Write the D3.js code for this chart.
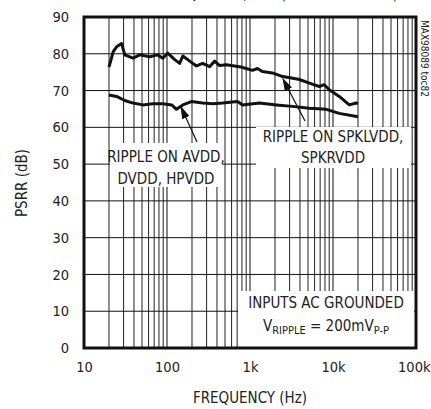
<!DOCTYPE html>
<html lang="en">
<head>
<meta charset="UTF-8">
<title>PSRR vs frequency</title>
<script src="https://cdn.jsdelivr.net/npm/d3@7"></script>
<style>
  body{ margin:0; padding:0; background:#fff; }
  svg text{ font-family:"Liberation Sans Narrow","DejaVu Sans Condensed","Roboto Condensed",Arial,sans-serif; fill:#222; }
  .tick text{ font-size:14.5px; }
  .grid line{ stroke:#111; stroke-width:1; }
  .grid .minor{ stroke:#222; stroke-width:1; }
  .curve{ fill:none; stroke:#111; stroke-width:3; stroke-linejoin:round; }
  .note{ font-size:15px; }
</style>
</head>
<body>
<div id="chart"></div>
<script>
// upper curve: ripple on SPKLVDD, SPKRVDD
let spkFreq = [20, 22.5, 24.7, 28.4, 31, 39, 47, 62, 77, 89, 102, 124, 142, 155, 188, 226, 269, 326, 375, 430, 518, 748, 900, 1070, 1230, 1410, 1860, 2390, 3150, 3940, 5190, 6840, 7850, 9020, 11900, 15700, 19000, 20000];
let spkDb   = [76.4, 80.6, 81.9, 82.8, 79.7, 78.8, 79.7, 79.2, 79.7, 78.8, 80.2, 78.4, 77.4, 79.4, 78.0, 76.7, 77.4, 76.5, 78.0, 76.8, 77.0, 76.5, 76.0, 75.5, 76.0, 75.2, 74.8, 73.9, 73.4, 73.0, 72.0, 71.1, 71.6, 70.2, 68.4, 66.1, 66.6, 66.5];
// lower curve: ripple on AVDD, DVDD, HPVDD
let avddFreq = [20, 24.7, 31, 39, 51, 67.5, 89, 114, 130, 155, 197, 269, 355, 468, 708, 813, 1300, 2080, 3240, 5190, 8300, 11900, 20000];
let avddDb   = [68.8, 68.4, 67.3, 66.6, 66.1, 66.4, 66.4, 66.1, 64.9, 66.1, 67.0, 66.6, 66.4, 66.6, 67.0, 66.1, 66.6, 66.1, 65.7, 65.2, 64.9, 63.8, 62.9];

let yTicks = [0, 10, 20, 30, 40, 50, 60, 70, 80, 90];
let xTicks = [10, 100, 1000, 10000, 100000];
let xTickLabels = ["10", "100", "1k", "10k", "100k"];

let W = 431, H = 409;
let margin = {top: 17, right: 15, bottom: 61, left: 84};
let width = W - margin.left - margin.right,
    height = H - margin.top - margin.bottom;

let svg = d3.select("#chart").append("svg")
    .attr("width", W).attr("height", H);

// title, cut off at the top edge like in the source
svg.append("text").attr("x", 398).attr("y", -1)
  .attr("text-anchor", "end").style("font-size", "15px")
  .text("PSRR vs. FREQUENCY, BTL (SPEAKER MODE)");

let g = svg.append("g").attr("transform", "translate(" + margin.left + "," + margin.top + ")");

let x = d3.scaleLog().domain([10, 100000]).range([0, width]);
let y = d3.scaleLinear().domain([0, 90]).range([height, 0]);

// grid
let minorF = [];
for (let d = 10; d < 100000; d *= 10)
  for (let k = 2; k <= 9; k++) minorF.push(d * k);

let grid = g.append("g").attr("class", "grid");
grid.selectAll("line.minor").data(minorF).enter().append("line")
  .attr("class", "minor")
  .attr("x1", d => x(d)).attr("x2", d => x(d))
  .attr("y1", 0).attr("y2", height);
grid.selectAll("line.major").data(xTicks).enter().append("line")
  .attr("class", "major")
  .attr("x1", d => x(d)).attr("x2", d => x(d))
  .attr("y1", 0).attr("y2", height);
grid.selectAll("line.h").data(yTicks).enter().append("line")
  .attr("class", "h")
  .attr("x1", 0).attr("x2", width)
  .attr("y1", d => y(d)).attr("y2", d => y(d));

// curves
let line = d3.line().x(d => x(d[0])).y(d => y(d[1]));
g.append("path").attr("class", "curve").attr("d", line(d3.zip(spkFreq, spkDb)));
g.append("path").attr("class", "curve").attr("d", line(d3.zip(avddFreq, avddDb)));

// white boxes behind the notes
function box(x0, y0, x1, y1) {
  g.append("rect").attr("x", x0 - margin.left).attr("y", y0 - margin.top)
    .attr("width", x1 - x0).attr("height", y1 - y0).attr("fill", "#fff");
}
box(110, 143, 222, 187);
box(256, 127, 411, 168);
box(238, 291, 414, 348);

// arrows
let defs = svg.append("defs");
defs.append("marker").attr("id", "arr")
  .attr("viewBox", "0 0 10 10").attr("refX", 9).attr("refY", 5)
  .attr("markerWidth", 13).attr("markerHeight", 8)
  .attr("markerUnits", "userSpaceOnUse")
  .attr("orient", "auto")
  .attr("preserveAspectRatio", "none")
  .append("path").attr("d", "M0,0 L10,5 L0,10 z").attr("fill", "#111");

function arrow(x1, y1, x2, y2) {
  svg.append("line").attr("x1", x1).attr("y1", y1).attr("x2", x2).attr("y2", y2)
    .attr("stroke", "#111").attr("stroke-width", 1.2)
    .attr("marker-end", "url(#arr)");
}

// frame
g.append("rect").attr("width", width).attr("height", height)
  .attr("fill", "none").attr("stroke", "#111").attr("stroke-width", 3);

// axes
let yAx = g.append("g").call(d3.axisLeft(y).tickValues(yTicks).tickSize(0).tickPadding(15));
yAx.select(".domain").remove();
let xAx = g.append("g").attr("transform", "translate(0," + height + ")")
  .call(d3.axisBottom(x).tickValues(xTicks).tickFormat((d, i) => xTickLabels[i]).tickSize(0).tickPadding(14));
xAx.select(".domain").remove();
xAx.selectAll(".tick").filter(d => d === 100000).select("text").attr("text-anchor", "end").attr("dx", 14);

svg.append("text").attr("x", 250).attr("y", 403).attr("text-anchor", "middle")
  .style("font-size", "15px").text("FREQUENCY (Hz)");
svg.append("text").attr("transform", "translate(27,183) rotate(-90)")
  .attr("text-anchor", "middle").style("font-size", "15px").text("PSRR (dB)");

svg.append("text").attr("transform", "translate(421,20) rotate(90)")
  .style("font-size", "10px").text("MAX98089 toc82");

// notes
svg.append("text").attr("class", "note").attr("x", 166).attr("y", 162).attr("text-anchor", "middle").text("RIPPLE ON AVDD,");
svg.append("text").attr("class", "note").attr("x", 166).attr("y", 184).attr("text-anchor", "middle").text("DVDD, HPVDD");
svg.append("text").attr("class", "note").attr("x", 333).attr("y", 142).attr("text-anchor", "middle").text("RIPPLE ON SPKLVDD,");
svg.append("text").attr("class", "note").attr("x", 333).attr("y", 163).attr("text-anchor", "middle").text("SPKRVDD");
svg.append("text").attr("class", "note").attr("x", 326).attr("y", 308).attr("text-anchor", "middle").text("INPUTS AC GROUNDED");
let v = svg.append("text").attr("class", "note").attr("x", 326).attr("y", 331).attr("text-anchor", "middle");
v.append("tspan").text("V");
v.append("tspan").attr("dy", 3).style("font-size", "11px").text("RIPPLE");
v.append("tspan").attr("dy", -3).text(" = 200mV");
v.append("tspan").attr("dy", 3).style("font-size", "11px").text("P-P");

arrow(197, 142, 181, 107);
arrow(305, 121, 283, 79);
</script>
</body>
</html>
